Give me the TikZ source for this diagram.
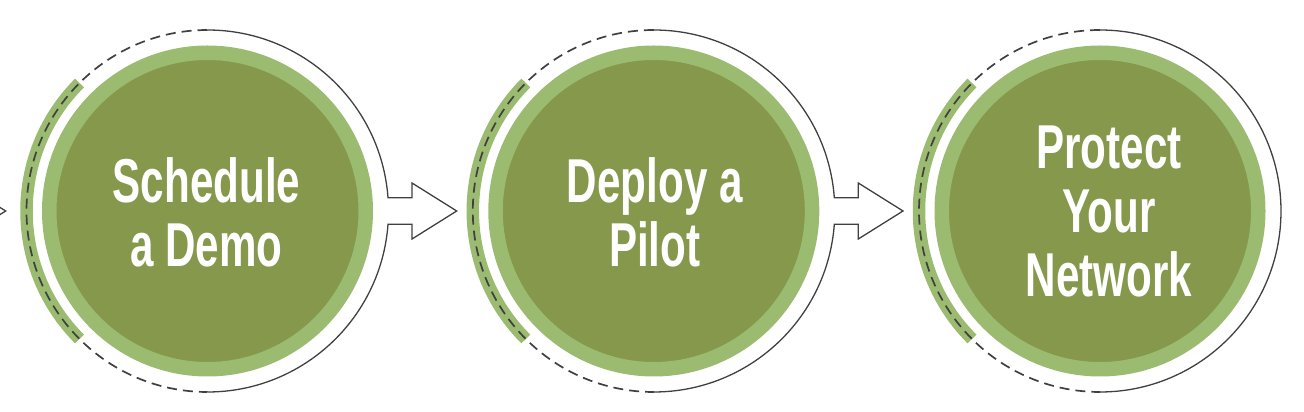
\documentclass[tikz,border=0pt]{standalone}
\usepackage{fontspec}
\newfontfamily\stepfont[FakeStretch=0.68]{Liberation Sans}
\usetikzlibrary{calc}
\definecolor{darkgr}{RGB}{133,152,75}
\definecolor{lightgr}{RGB}{155,187,112}
\definecolor{ringline}{RGB}{64,64,64}
\begin{document}
\begin{tikzpicture}[x=1pt,y=1pt,
  stepcircle/.style={circle, draw=lightgr, line width=14.5pt, fill=darkgr,
    minimum size=316.5pt, inner sep=0pt},
  steptext/.style={text=white, align=center, inner sep=0pt,
    font=\stepfont\bfseries\fontsize{62}{64}\selectfont},
  ringsolid/.style={draw=ringline, line width=1.3pt, line join=miter},
  ringdash/.style={draw=ringline, line width=1.7pt, dash pattern=on 10pt off 6pt},
  band/.style={draw=lightgr, line width=12.5pt}
]
\useasboundingbox (0,0) rectangle (1304,412);
\clip (0,0) rectangle (1304,412);

\node[stepcircle] (s1) at (207.5,201) {};
\node[stepcircle] (s2) at (653.8,201) {};
\node[stepcircle] (s3) at (1100,201) {};
\node[steptext] (l1) at ($(s1.center)+(-1,-1)$) {Schedule\\a Demo};
\node[steptext] (l2) at ($(s2.center)+(1,-1)$) {Deploy a\\Pilot};
\node[steptext] (l3) at ($(s3.center)+(9,0)$) {Protect\\Your\\Network};

% green bands on the left of each outer ring
\foreach \s in {s1,s2,s3}{
  \draw[band] ($(\s.center)+(135:181)$) arc[start angle=135, end angle=225, radius=181];
  \draw[ringdash] ($(\s.center)+(90:181)$) arc[start angle=90, end angle=270, radius=181];
}

% solid right halves with block arrows
\foreach \s/\t in {s1/t1,s2/t2}{
  \draw[ringsolid] ($(\s.center)+(-90:181)$) arc[start angle=-90, end angle=-4.214, radius=181]
    -- ++(24,0) -- ++(0,-14.7) -- ++(44.7,28) coordinate (\t) -- ++(-44.7,28) -- ++(0,-14.7) -- ++(-24,0)
    arc[start angle=4.214, end angle=90, radius=181];
}
\draw[ringsolid] ($(s3.center)+(-90:181)$) arc[start angle=-90, end angle=90, radius=181];

% tip of the preceding arrow
\coordinate (t0) at (5.7,201);
\draw[ringsolid] ($(t0)+(-44.7,28)$) -- (t0) -- ($(t0)+(-44.7,-28)$);
\end{tikzpicture}
\end{document}
